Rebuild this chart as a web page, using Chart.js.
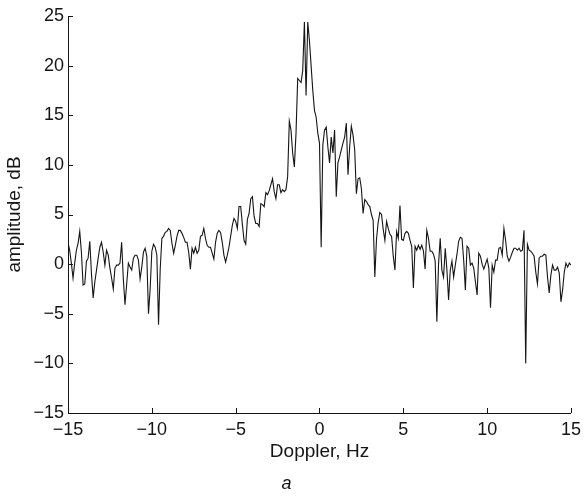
<!DOCTYPE html>
<html>
<head>
<meta charset="utf-8">
<script src="https://cdn.jsdelivr.net/npm/chart.js@4"></script>
<style>
  html, body { margin: 0; padding: 0; background: #fff; }
  #wrap { width: 587px; height: 500px; }
</style>
</head>
<body>
<div id="wrap"><canvas id="spectrum" width="587" height="500"></canvas></div>
<script>
// Doppler spectrum at 0.1 Hz steps from -15 Hz to 15 Hz
const dopplerStart = -15;
const dopplerStep = 0.1;

// amplitude, dB  (-15.0 .. -10.0)
const ampNegFar = [
  2.2, 1.4, 0.1, -1.4, 0.1, 1.4, 2.1, 3.3, 1.2, -2.1,
  -2.0, 0.3, 0.6, 2.3, -1.0, -3.4, -1.8, -0.6, 0.6, 1.7,
  2.2, 1.2, -0.1, 1.4, 0.9, -0.4, -1.4, -2.5, -0.4, -0.1,
  -0.1, 0.1, 2.2, -1.5, -4.1, -2.0, 0.1, -0.3, -0.6, 0.6,
  0.9, 0.9, 0.4, -1.5, -0.3, 1.2, 1.6, 0.8, -5.0, -2.5,
  1.3
];
// -9.9 .. -5.0
const ampNegMid = [
  2.0, 1.7, 0.9, -6.1, -0.5, 2.6, 2.8, 3.2, 3.3, 3.6,
  3.4, 2.1, 1.1, 1.9, 2.8, 3.4, 3.4, 3.1, 2.7, 2.2,
  2.2, 1.2, -0.5, 1.6, 1.1, 1.7, 1.1, 1.4, 2.8, 2.9,
  3.6, 2.6, 1.9, 1.7, 1.7, 1.1, 0.5, 2.2, 3.1, 3.4,
  3.2, 2.2, 0.9, 0.2, 0.9, 1.7, 2.8, 3.9, 4.6, 4.3
];
// -4.9 .. 0.0
const ampNegNear = [
  3.6, 5.8, 5.8, 4.0, 2.4, 2.0, 4.5, 5.1, 6.6, 6.8,
  4.8, 4.1, 4.1, 3.8, 6.1, 6.0, 5.8, 7.2, 7.0, 7.4,
  8.0, 8.6, 7.3, 6.6, 8.0, 8.0, 7.2, 7.5, 7.3, 7.5,
  8.8, 14.4, 13.5, 11.2, 9.8, 13.2, 18.7, 18.5, 18.3, 19.5,
  24.4, 17.0, 24.4, 22.5, 20.0, 17.5, 15.5, 14.8, 13.2, 12.2
];
// 0.1 .. 5.0
const ampPosNear = [
  1.7, 12.0, 13.5, 13.8, 11.8, 10.2, 12.8, 11.2, 13.5, 6.8,
  10.2, 10.8, 11.5, 12.2, 12.8, 14.2, 9.0, 11.8, 13.9, 13.0,
  11.5, 7.1, 8.6, 8.7, 7.6, 5.1, 6.5, 6.3, 6.0, 5.8,
  5.0, 4.4, -1.3, 2.5, 4.2, 5.2, 5.0, 3.5, 2.4, 4.3,
  3.6, 3.0, 2.8, 0.8, -0.6, 3.3, 2.6, 5.9, 2.5, 2.4
];
// 5.1 .. 10.0
const ampPosMid = [
  3.1, 3.3, 3.1, 2.4, 1.8, -2.4, 1.8, 1.4, 1.9, 1.5,
  1.9, 1.3, -0.5, 3.4, 2.6, 1.3, 1.3, 1.0, 0.3, -5.8,
  0.0, 2.6, -0.6, -1.3, 1.6, -0.6, -3.6, -0.6, 0.3, -1.3,
  -0.1, 1.0, 2.3, 2.7, 2.6, 0.4, -2.6, 1.8, 1.6, -0.1,
  0.1, -0.4, -1.8, -3.1, 1.1, 0.8, 0.0, -0.5, 0.0, 0.5
];
// 10.1 .. 15.0
const ampPosFar = [
  -0.4, -4.4, -0.1, -0.8, 0.4, 0.4, 1.6, 1.7, 0.9, 3.6,
  2.4, 0.8, 0.3, 0.7, 1.2, 1.6, 1.6, 1.4, 1.6, 1.3,
  1.4, 3.4, -10.0, 2.0, 1.4, 1.3, 1.1, 0.8, -0.8, -2.0,
  0.6, 0.8, 0.8, 1.0, 0.9, -1.3, -2.9, -1.1, -0.1, -0.6,
  -0.6, -0.3, -0.9, -3.8, -2.6, -0.8, 0.1, -0.3, 0.1, -0.1
];

const xTicks = [-15, -10, -5, 0, 5, 10, 15];
const yTicks = [-15, -10, -5, 0, 5, 10, 15, 20, 25];

const amplitude = [...ampNegFar, ...ampNegMid, ...ampNegNear, ...ampPosNear, ...ampPosMid, ...ampPosFar];
const points = amplitude.map((v, i) => ({
  x: Math.round((dopplerStart + i * dopplerStep) * 10) / 10,
  y: v
}));

const ink = "#151515";
const fontFamily = "'Liberation Sans', Arial, Helvetica, sans-serif";

function fmt(v) {
  return v < 0 ? "\u2212" + Math.abs(v) : String(v);
}

// matlab-style ticks pointing into the plot
const innerTicks = {
  id: "innerTicks",
  afterDatasetsDraw(chart) {
    const { ctx, chartArea, scales } = chart;
    const len = 5;
    ctx.save();
    ctx.strokeStyle = ink;
    ctx.lineWidth = 1;
    ctx.beginPath();
    xTicks.forEach(t => {
      const px = Math.round(scales.x.getPixelForValue(t)) + 0.5;
      ctx.moveTo(px, chartArea.bottom);
      ctx.lineTo(px, chartArea.bottom - len);
    });
    yTicks.forEach(t => {
      const py = Math.round(scales.y.getPixelForValue(t)) + 0.5;
      ctx.moveTo(chartArea.left, py);
      ctx.lineTo(chartArea.left + len, py);
    });
    ctx.stroke();
    ctx.restore();
  }
};

new Chart(document.getElementById("spectrum"), {
  type: "line",
  data: {
    datasets: [{
      data: points,
      borderColor: ink,
      borderWidth: 1.1,
      pointRadius: 0,
      tension: 0,
      fill: false
    }]
  },
  options: {
    responsive: false,
    animation: false,
    layout: { padding: { left: 0, right: 14, top: 16, bottom: 0 } },
    plugins: {
      legend: { display: false },
      tooltip: { enabled: false },
      title: {
        display: true,
        text: "a",
        position: "bottom",
        color: ink,
        font: { family: fontFamily, size: 18, style: "italic", weight: "normal" },
        padding: { top: 0, bottom: 5 }
      }
    },
    scales: {
      x: {
        type: "linear",
        min: -15,
        max: 15,
        afterBuildTicks: s => { s.ticks = xTicks.map(v => ({ value: v })); },
        afterFit: s => { s.height = 60.4; },
        grid: { drawOnChartArea: false, drawTicks: false },
        border: { display: true, color: ink, width: 1 },
        ticks: {
          padding: 6,
          color: ink,
          maxRotation: 0,
          font: { family: fontFamily, size: 18 },
          callback: v => fmt(v)
        },
        title: {
          display: true,
          text: "Doppler, Hz",
          color: ink,
          font: { family: fontFamily, size: 19 },
          padding: { top: 0, bottom: 10 }
        }
      },
      y: {
        type: "linear",
        min: -15,
        max: 25,
        afterBuildTicks: s => { s.ticks = yTicks.map(v => ({ value: v })); },
        afterFit: s => { s.width = 68; },
        grid: { drawOnChartArea: false, drawTicks: false },
        border: { display: true, color: ink, width: 1 },
        ticks: {
          padding: 4,
          color: ink,
          font: { family: fontFamily, size: 18 },
          callback: v => fmt(v)
        },
        title: {
          display: true,
          text: "amplitude, dB",
          color: ink,
          font: { family: fontFamily, size: 19 },
          padding: { top: 3, bottom: 0 }
        }
      }
    }
  },
  plugins: [innerTicks]
});
</script>
</body>
</html>
